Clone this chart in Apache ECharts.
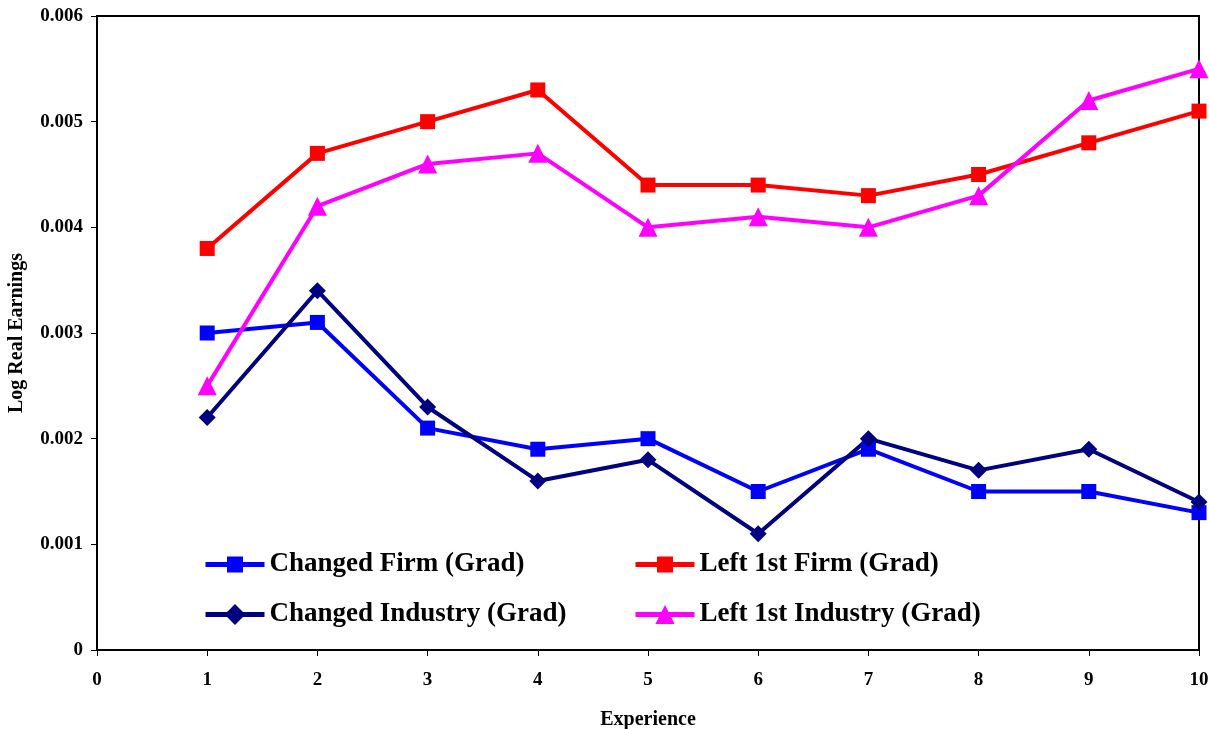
<!DOCTYPE html>
<html>
<head>
<meta charset="utf-8">
<script src="https://cdn.jsdelivr.net/npm/echarts@6/dist/echarts.min.js"></script>
<style>
  html, body { margin: 0; padding: 0; background: #fff; }
  #chart { width: 1209px; height: 729px; }
</style>
</head>
<body>
<div id="chart"></div>
<script>
// Years of experience on the horizontal axis
const experience = [1, 2, 3, 4, 5, 6, 7, 8, 9, 10];

// Log real earnings by group
const changedFirm      = [0.0030, 0.0031, 0.0021, 0.0019, 0.0020, 0.0015, 0.0019, 0.0015, 0.0015, 0.0013];
const leftFirstFirm    = [0.0038, 0.0047, 0.0050, 0.0053, 0.0044, 0.0044, 0.0043, 0.0045, 0.0048, 0.0051];
const changedIndustry  = [0.0022, 0.0034, 0.0023, 0.0016, 0.0018, 0.0011, 0.0020, 0.0017, 0.0019, 0.0014];
const leftFirstIndustry= [0.0025, 0.0042, 0.0046, 0.0047, 0.0040, 0.0041, 0.0040, 0.0043, 0.0052, 0.0055];

const seriesNames = [
  'Changed Firm (Grad)',
  'Left 1st Firm (Grad)',
  'Changed Industry (Grad)',
  'Left 1st Industry (Grad)'
];

const FONT = '"Liberation Serif", "DejaVu Serif", serif';

function pairs(vals) {
  return experience.map((x, i) => [x, vals[i]]);
}

function lineSeries(name, vals, color, symbol, size) {
  return {
    name: name,
    type: 'line',
    data: pairs(vals),
    symbol: symbol,
    symbolSize: size,
    showAllSymbol: true,
    lineStyle: { color: color, width: 4 },
    itemStyle: { color: color },
    emphasis: { disabled: true },
    animation: false,
    z: 3
  };
}

function legendAt(name, left, top, symSize) {
  return {
    data: [name],
    left: left,
    top: top,
    orient: 'horizontal',
    itemWidth: 59,
    itemHeight: symSize,
    itemGap: 4,
    selectedMode: false,
    lineStyle: { width: 5 },
    textStyle: { fontFamily: FONT, fontWeight: 'bold', fontSize: 27, color: '#000' }
  };
}

const chart = echarts.init(document.getElementById('chart'), null, { renderer: 'canvas' });

chart.setOption({
  backgroundColor: '#fff',
  animation: false,
  grid: {
    left: 97, right: 10, top: 16, bottom: 79,
    outerBoundsMode: 'none',
    containLabel: false,
    show: true, borderColor: '#000', borderWidth: 2
  },
  legend: [
    legendAt(seriesNames[0], 198, 546, 20),
    legendAt(seriesNames[1], 628, 546, 20),
    legendAt(seriesNames[2], 198, 596, 26),
    legendAt(seriesNames[3], 628, 596, 24)
  ],
  xAxis: {
    type: 'value',
    min: 0,
    max: 10,
    interval: 1,
    name: 'Experience',
    nameLocation: 'middle',
    nameGap: 60,
    nameTextStyle: { fontFamily: FONT, fontWeight: 'bold', fontSize: 20, color: '#000' },
    axisLine: { show: true, lineStyle: { color: '#000', width: 2 } },
    axisTick: { show: true, inside: false, length: 6, lineStyle: { color: '#000', width: 1 } },
    axisLabel: { fontFamily: FONT, fontWeight: 'bold', fontSize: 19, color: '#000', margin: 21 },
    splitLine: { show: false }
  },
  yAxis: {
    type: 'value',
    min: 0,
    max: 0.006,
    interval: 0.001,
    name: 'Log Real Earnings',
    nameLocation: 'middle',
    nameGap: 70,
    nameTextStyle: { fontFamily: FONT, fontWeight: 'bold', fontSize: 20, color: '#000' },
    axisLine: { show: true, lineStyle: { color: '#000', width: 2 } },
    axisTick: { show: true, inside: false, length: 6, lineStyle: { color: '#000', width: 1 } },
    axisLabel: {
      fontFamily: FONT, fontWeight: 'bold', fontSize: 19, color: '#000', margin: 14,
      formatter: v => (v === 0 ? '0' : v.toFixed(3))
    },
    splitLine: { show: false }
  },
  series: [
    lineSeries(seriesNames[0], changedFirm, '#0000ff', 'rect', 15),
    lineSeries(seriesNames[1], leftFirstFirm, '#ff0000', 'rect', 15),
    lineSeries(seriesNames[2], changedIndustry, '#000080', 'diamond', 17),
    lineSeries(seriesNames[3], leftFirstIndustry, '#ff00ff', 'triangle', 19)
  ]
});
</script>
</body>
</html>
